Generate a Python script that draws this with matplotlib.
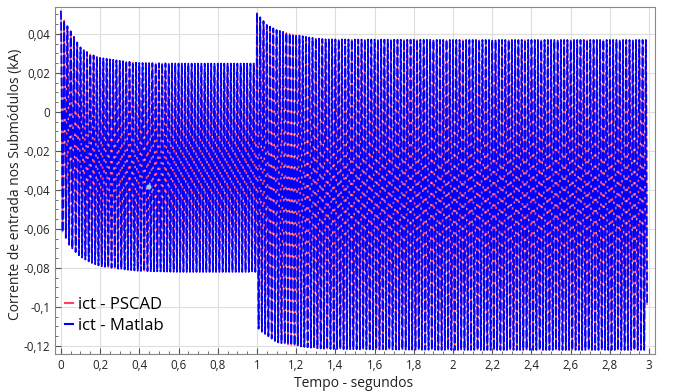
import numpy as np
import matplotlib
matplotlib.use("Agg")
import matplotlib.pyplot as plt
from matplotlib.ticker import MultipleLocator, FuncFormatter

# ---- data ----
freq_hz = 60.0                      # oscillation frequency of ict
t_end = 2.99
# envelope key points (time s, upper peak kA, lower trough kA)
env_t     = [0.0,    0.02,   0.046,  0.097,  0.148,  0.20,   0.30,   0.40,   0.60,   0.999,
             1.0,    1.015,  1.05,   1.10,   1.17,   1.27,   1.35,   2.0,    2.99]
env_upper = [0.0518, 0.046,  0.042,  0.0333, 0.0297, 0.0277, 0.0262, 0.0251, 0.0248, 0.0248,
             0.0508, 0.0487, 0.0446, 0.042,  0.040,  0.0381, 0.0372, 0.0369, 0.0369]
env_lower = [-0.060, -0.0635,-0.069, -0.074, -0.077, -0.079, -0.0805,-0.0815,-0.082, -0.082,
             -0.110, -0.112, -0.1144,-0.118, -0.1195,-0.1208,-0.1215,-0.122, -0.122]
cursor_t, cursor_v = [0.449], [-0.0385]

x_ticks = [0, 0.2, 0.4, 0.6, 0.8, 1, 1.2, 1.4, 1.6, 1.8, 2, 2.2, 2.4, 2.6, 2.8, 3]
y_ticks = [-0.12, -0.10, -0.08, -0.06, -0.04, -0.02, 0, 0.02, 0.04]

# ---- build waveform samples between the envelopes ----
t = np.arange(0, t_end, 1.0 / (freq_hz * 24))
up = np.interp(t, env_t, env_upper)
lo = np.interp(t, env_t, env_lower)
mid = (up + lo) / 2
amp = (up - lo) / 2
ict_pscad = mid + amp * np.cos(2 * np.pi * freq_hz * t)
ict_matlab = ict_pscad.copy()

plt.rcParams['font.family'] = ['Open Sans', 'DejaVu Sans']
fig = plt.figure(figsize=(6.81, 3.92), dpi=100)
ax = fig.add_axes([55/681, 1-354/392, 600/681, 347/392])

ax.plot(t, ict_pscad, color='#ff4060', lw=0.9, label='ict - PSCAD', zorder=2)
ax.plot(t, ict_matlab, color='#0000ff', lw=1.25, ls=(0, (5, 1.4)), label='ict - Matlab', zorder=3)
ax.scatter(cursor_t, cursor_v, s=14, color='#8fd0ff', zorder=5, edgecolors='none')

ax.set_xlim(-0.03, 3.03)
ax.set_ylim(-0.1241, 0.0538)
ax.set_xticks(x_ticks)
ax.set_yticks(y_ticks)

def fmt(v, pos):
    s = ('%.2f' % v).rstrip('0').rstrip('.')
    if s in ('-0', '0'):
        s = '0'
    return s.replace('.', ',')

ax.xaxis.set_major_formatter(FuncFormatter(fmt))
ax.yaxis.set_major_formatter(FuncFormatter(fmt))
ax.xaxis.set_minor_locator(MultipleLocator(0.05))
ax.yaxis.set_minor_locator(MultipleLocator(0.005))
ax.tick_params(which='both', direction='in', colors='#555555', labelcolor='#222222', labelsize=8.3)
ax.tick_params(which='major', length=4)
ax.tick_params(which='minor', length=2)
ax.grid(True, which='major', color='#dddddd', lw=0.8)
ax.set_axisbelow(True)
for sp in ax.spines.values():
    sp.set_color('#888888')

ax.set_xlabel('Tempo - segundos', fontsize=10, color='#222222')
ax.set_ylabel('Corrente de entrada nos Submódulos (kA)', fontsize=10, color='#222222')
ax.xaxis.set_label_coords(0.497, -0.062)
ax.yaxis.set_label_coords(-0.053, 0.49)

leg = ax.legend(loc='lower left', bbox_to_anchor=(0.0, 0.03), frameon=False, fontsize=12,
                handlelength=0.5, handletextpad=0.3, borderaxespad=0.2, labelspacing=0.3)
for h in leg.get_lines():
    h.set_linestyle('-')
    h.set_linewidth(1.5)

fig.savefig('out.png', dpi=100)
